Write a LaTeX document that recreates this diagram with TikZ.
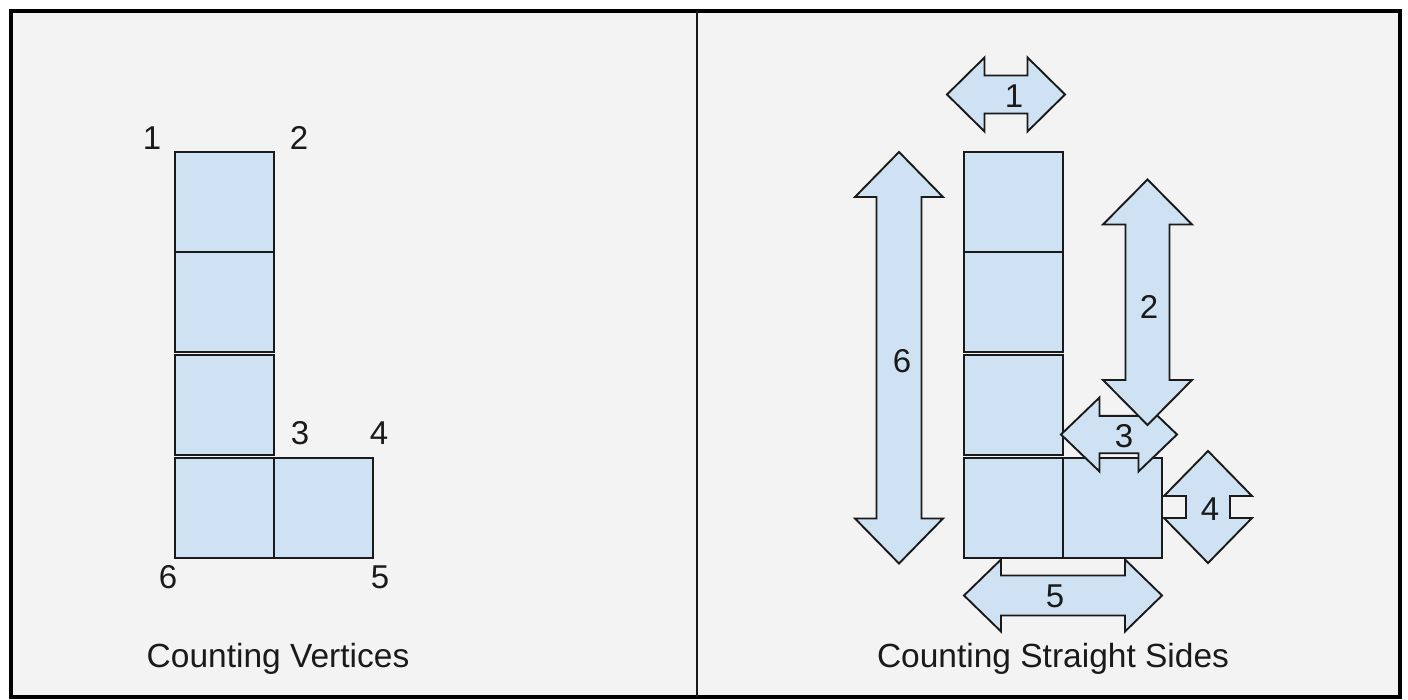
\documentclass[tikz,border=0pt]{standalone}
\usepackage{fontspec}
\setmainfont{Liberation Sans}
\definecolor{cellblue}{HTML}{CFE2F3}
\definecolor{ink}{HTML}{1A1A1A}
\definecolor{panel}{HTML}{F3F3F3}

% Horizontal double arrow: x1, x2, y-centre, head half-height, shaft half-height, head length
\newcommand\horizarrow[6]{%
  \filldraw[arrowshape] (#1,#3) -- (#1+#6,#3-#4) -- (#1+#6,#3-#5) -- (#2-#6,#3-#5)
    -- (#2-#6,#3-#4) -- (#2,#3) -- (#2-#6,#3+#4) -- (#2-#6,#3+#5)
    -- (#1+#6,#3+#5) -- (#1+#6,#3+#4) -- cycle;}
% Vertical double arrow: y1, y2, x-centre, head half-width, shaft half-width, head length
\newcommand\vertarrow[6]{%
  \filldraw[arrowshape] (#3,#1) -- (#3+#4,#1+#6) -- (#3+#5,#1+#6) -- (#3+#5,#2-#6)
    -- (#3+#4,#2-#6) -- (#3,#2) -- (#3-#4,#2-#6) -- (#3-#5,#2-#6)
    -- (#3-#5,#1+#6) -- (#3-#4,#1+#6) -- cycle;}

\tikzset{
  cell/.style={draw=ink, fill=cellblue, line width=2pt, inner sep=0pt, outer sep=0pt,
    minimum width=99pt, minimum height=99.5pt},
  arrowshape/.style={draw=ink, fill=cellblue, line width=1.9pt, line join=miter},
  num/.style={text=ink, inner sep=0pt, font=\fontsize{33}{39}\selectfont},
  caption/.style={text=ink, inner sep=0pt, anchor=base, font=\fontsize{33.5}{40}\selectfont},
}

\begin{document}
\begin{tikzpicture}[x=1pt, y=-1pt]
\useasboundingbox (0,0) rectangle (1408,700);
\fill[white] (0,0) rectangle (1408,700);

% frame and divider
\filldraw[fill=panel, draw=black, line width=4pt] (11,11.5) rectangle (1400,697);
\draw[ink, line width=2pt] (697,11.5) -- (697,697);

% ---- left panel: vertices ----
\node[cell] (l1) at (224.5,202.2) {};
\node[cell] (l2) at (224.5,302) {};
\node[cell] (l3) at (224.5,405.2) {};
\node[cell] (l4) at (224.5,508) {};
\node[cell] (l5) at (323.5,508) {};

\node[num] (v1) at (152,138) {1};
\node[num] (v2) at (299,138) {2};
\node[num] (v3) at (300,433) {3};
\node[num] (v4) at (379,433) {4};
\node[num] (v5) at (380,577) {5};
\node[num] (v6) at (168,577) {6};

\node[caption] (capL) at (278,667) {Counting Vertices};

% ---- right panel: straight sides ----
\node[cell] (r1) at (1013.5,202.2) {};
\node[cell] (r2) at (1013.5,302) {};
\node[cell] (r3) at (1013.5,405.2) {};
\node[cell] (r4) at (1013.5,508) {};
\node[cell] (r5) at (1112.5,508) {};

\vertarrow{152}{563.5}{899}{44}{22.5}{45}
\horizarrow{947}{1065}{94.5}{37}{19}{37.5}
\horizarrow{1061}{1177}{434.5}{37}{18.7}{38.5}
\vertarrow{179.5}{425}{1147.5}{44.5}{22}{45}
\vertarrow{451}{563}{1208}{44}{22}{45}
\horizarrow{964}{1162}{595.5}{36}{20}{37}

\node[num] (s1) at (1014,96) {1};
\node[num] (s2) at (1149,307) {2};
\node[num] (s3) at (1124,436.5) {3};
\node[num] (s4) at (1210,509) {4};
\node[num] (s5) at (1055,596.5) {5};
\node[num] (s6) at (902,361) {6};

\node[caption] (capR) at (1053,667) {Counting Straight Sides};
\end{tikzpicture}
\end{document}
